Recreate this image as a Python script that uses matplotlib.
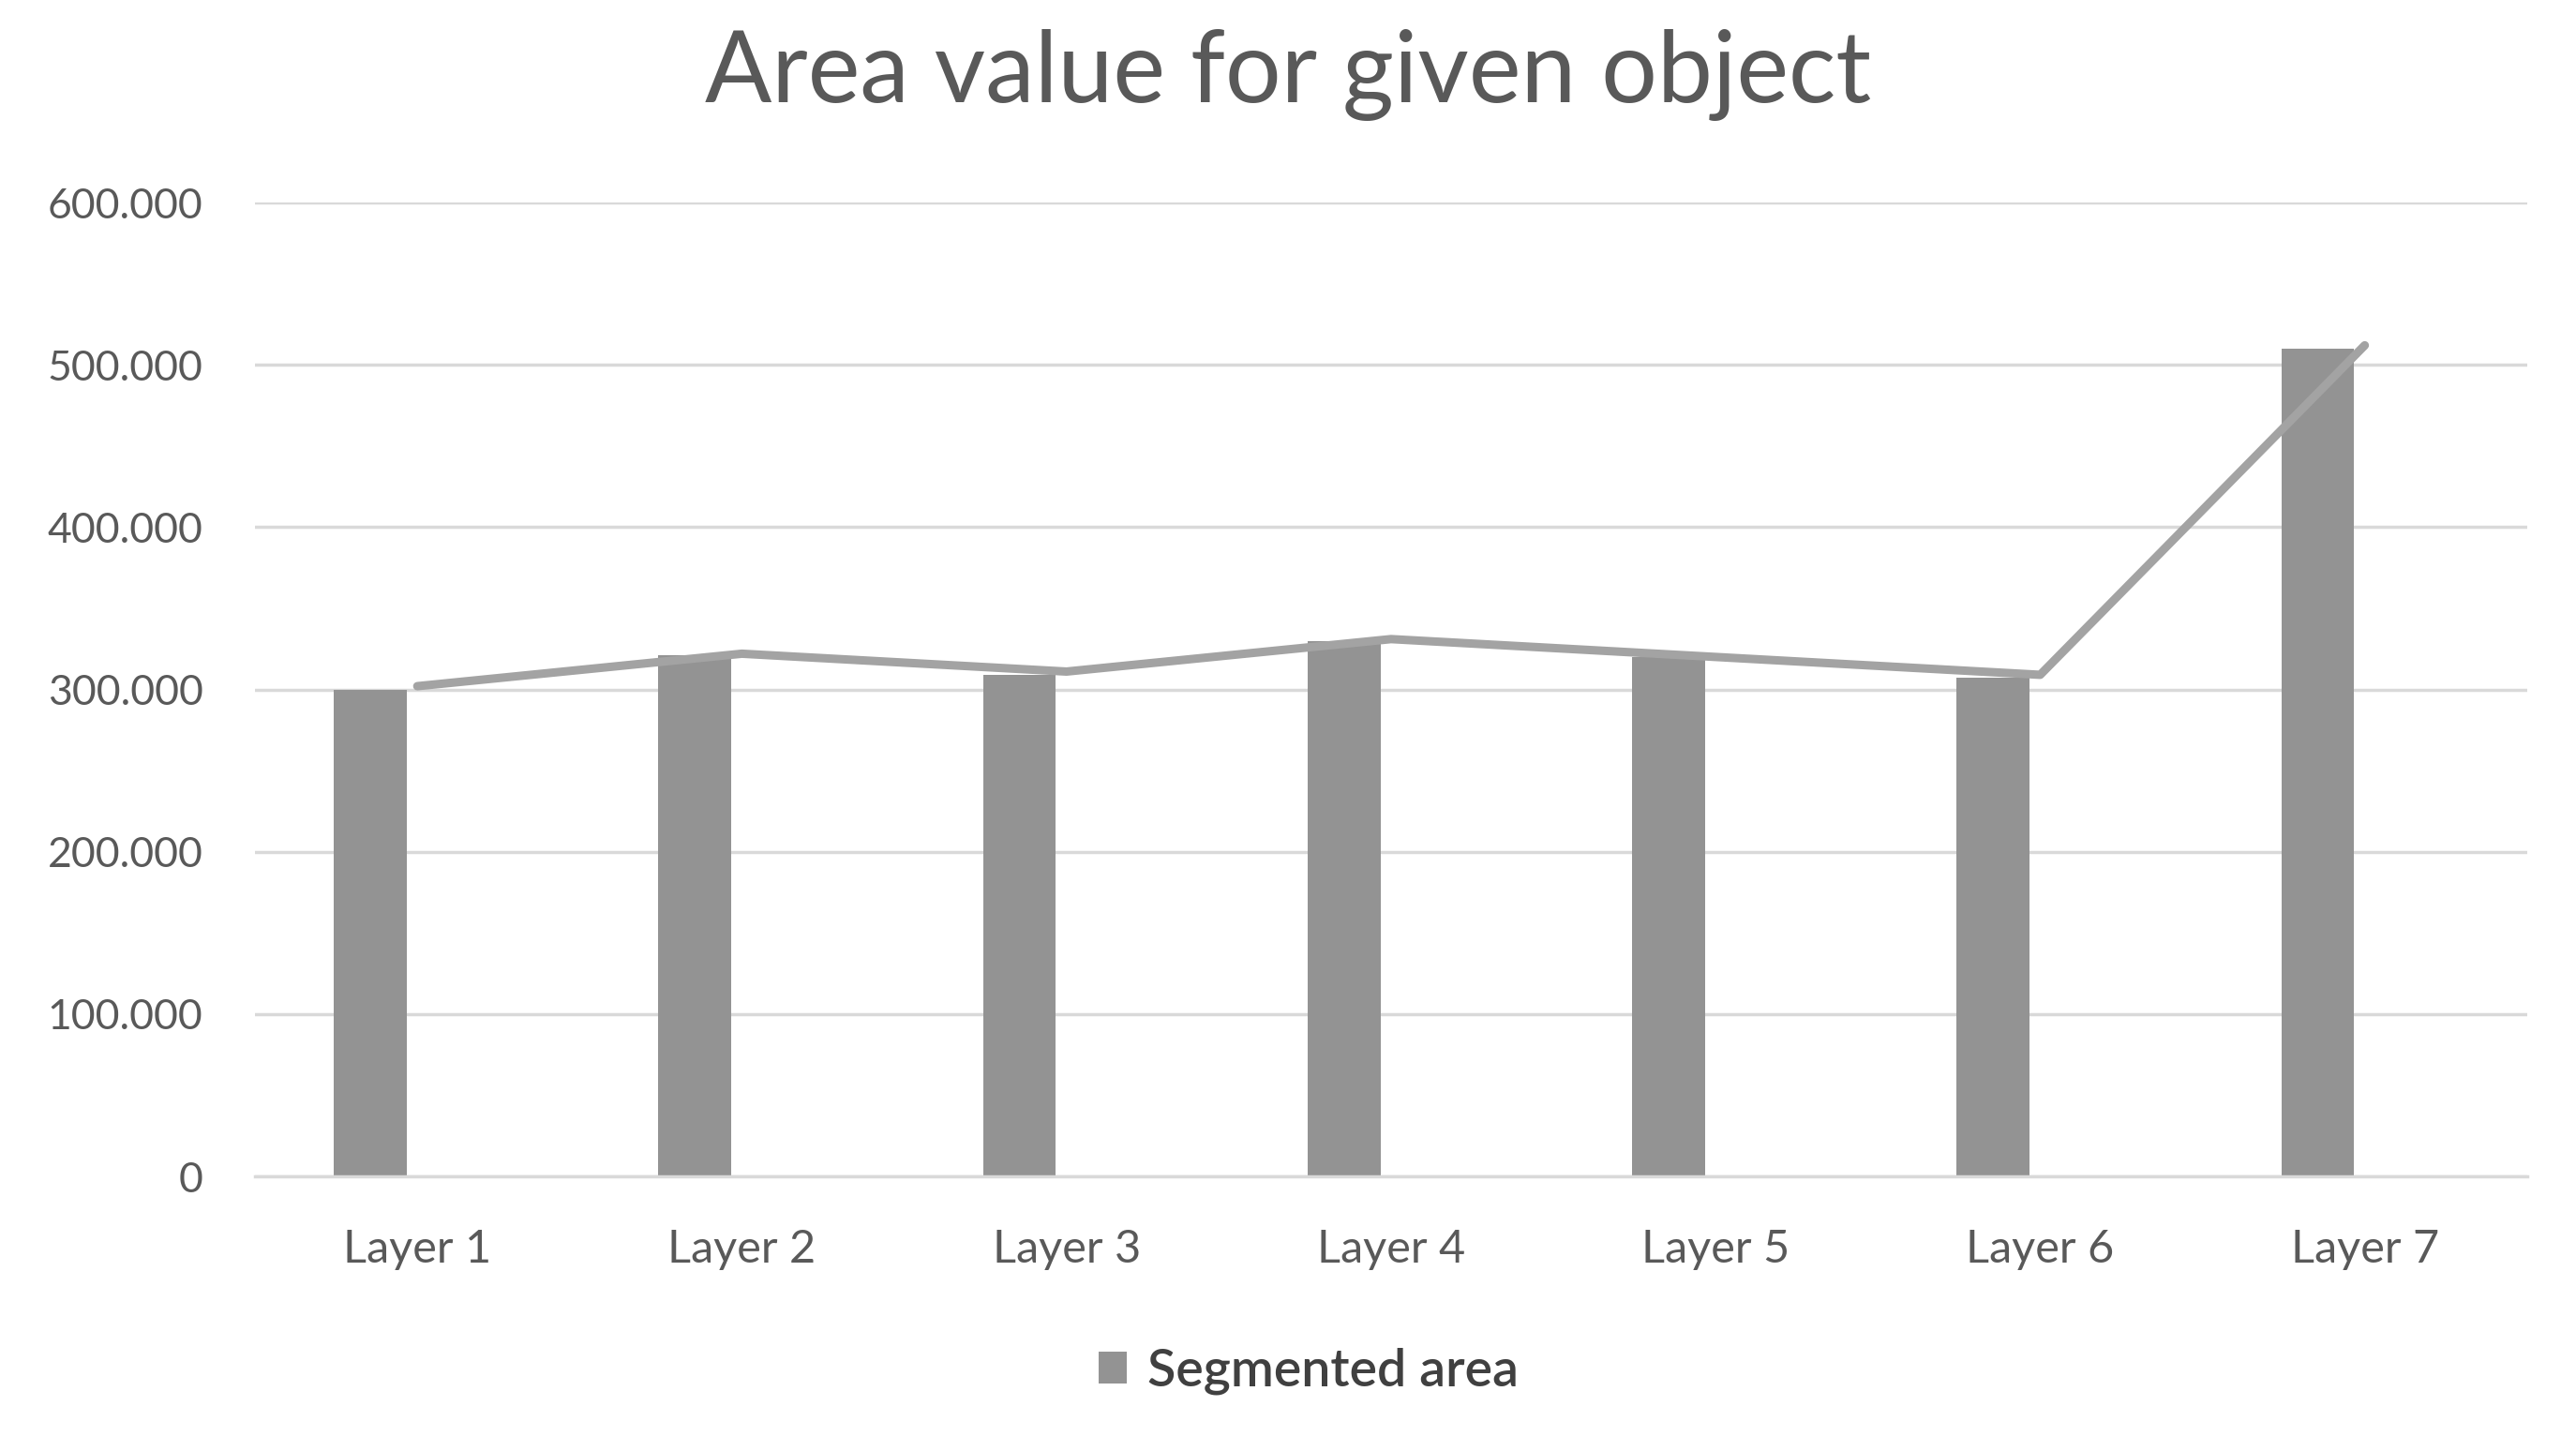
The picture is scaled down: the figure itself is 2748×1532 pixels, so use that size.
import matplotlib.pyplot as plt
import numpy as np
from matplotlib.ticker import FuncFormatter, MultipleLocator

# --- data ---
layers = ['Layer 1', 'Layer 2', 'Layer 3', 'Layer 4', 'Layer 5', 'Layer 6', 'Layer 7']
segmented_area = [300000, 321000, 309000, 330000, 320000, 307000, 510000]
trend_values = [302000, 322000, 311000, 331000, 320000, 309000, 512000]

BAR_GRAY = '#939393'
LINE_GRAY = '#a3a3a3'
GRID_GRAY = '#d9d9d9'
TEXT_GRAY = '#595959'

plt.rcParams['font.family'] = ['Lato', 'DejaVu Sans']

fig = plt.figure(figsize=(27.48, 15.32), dpi=100, facecolor='white')
ax = fig.add_axes([0.099, 0.1808, 0.882, 0.6782])

x = np.arange(len(layers))
bars = ax.bar(x - 0.145, segmented_area, width=0.225, color=BAR_GRAY,
              label='Segmented area', zorder=2)
ax.plot(x, trend_values, color=LINE_GRAY, linewidth=6.5,
        solid_capstyle='round', solid_joinstyle='round', zorder=3)

ax.set_xlim(-0.5, len(layers) - 0.5)
ax.set_ylim(0, 600000)
ax.yaxis.set_major_locator(MultipleLocator(100000))
# thousands separated with dots, as in the original
ax.yaxis.set_major_formatter(FuncFormatter(lambda v, p: f'{v:,.0f}'.replace(',', '.')))
ax.set_xticks(x)
ax.set_xticklabels(layers)

ax.grid(axis='y', color=GRID_GRAY, linewidth=2.5, zorder=0)
ax.set_axisbelow(True)
for side in ['top', 'right', 'left']:
    ax.spines[side].set_visible(False)
ax.spines['bottom'].set_color(GRID_GRAY)
ax.spines['bottom'].set_linewidth(2.5)
ax.tick_params(axis='both', length=0, colors=TEXT_GRAY)
ax.tick_params(axis='y', pad=40, labelsize=32)
ax.tick_params(axis='x', pad=40, labelsize=35)

fig.text(0.5, 0.948, 'Area value for given object', ha='center', va='center',
         fontsize=76, color=TEXT_GRAY)

fig.legend(handles=[bars], labels=['Segmented area'], loc='center',
           bbox_to_anchor=(0.508, 0.045), frameon=False,
           prop={'size': 40, 'weight': 'semibold'},
           handlelength=0.55, handleheight=0.55, handletextpad=0.4,
           labelcolor='#404040')

plt.savefig('out.png', dpi=100, facecolor='white')
